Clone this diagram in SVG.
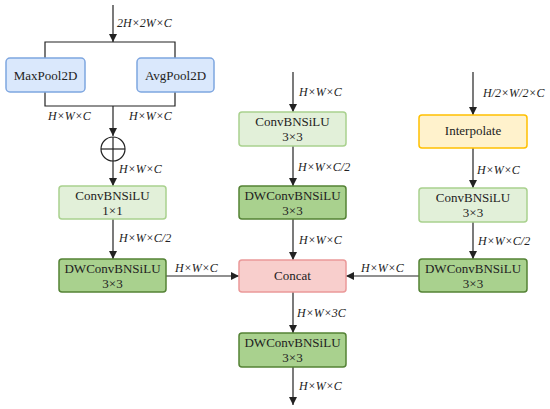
<svg xmlns="http://www.w3.org/2000/svg" width="550" height="409" viewBox="0 0 550 409">
<style>
text{font-family:"Times New Roman",Tinos,"Liberation Serif","Noto Serif","DejaVu Serif",FreeSerif,serif;fill:#222}
.t{font-size:13px;text-anchor:middle}
.l{font-size:12px;font-style:italic}
.ln{stroke:#222;stroke-width:1.2;fill:none}
.blue{fill:#dae8fc;stroke:#7ea6e0;stroke-width:1.5}
.lg{fill:#e2f0d9;stroke:#a9d18e;stroke-width:1.5}
.dg{fill:#a9d18e;stroke:#548235;stroke-width:1.5}
.pk{fill:#f8cecc;stroke:#ea9999;stroke-width:1.5}
.yl{fill:#fff2cc;stroke:#ffc000;stroke-width:1.5}
</style>
<defs>
<marker id="ah" viewBox="0 0 10 10" refX="10" refY="5" markerWidth="8" markerHeight="8" markerUnits="userSpaceOnUse" orient="auto">
<path d="M0,0 L10,5 L0,10 z" fill="#222"/>
</marker>
</defs>
<g id="connectors">
<line class="ln" x1="113" y1="5" x2="113" y2="42" marker-end="url(#ah)"/>
<polyline class="ln" points="45,58 45,42 175,42 175,58"/>
<polyline class="ln" points="45,92 45,106 175,106 175,92"/>
<line class="ln" x1="113" y1="106" x2="113" y2="136" marker-end="url(#ah)"/>
<line class="ln" x1="113" y1="161" x2="113" y2="186" marker-end="url(#ah)"/>
<line class="ln" x1="113" y1="219" x2="113" y2="259" marker-end="url(#ah)"/>
<line class="ln" x1="166" y1="276" x2="239" y2="276" marker-end="url(#ah)"/>
<line class="ln" x1="293" y1="72" x2="293" y2="112" marker-end="url(#ah)"/>
<line class="ln" x1="293" y1="146" x2="293" y2="186" marker-end="url(#ah)"/>
<line class="ln" x1="293" y1="219" x2="293" y2="260" marker-end="url(#ah)"/>
<line class="ln" x1="293" y1="292" x2="293" y2="333" marker-end="url(#ah)"/>
<line class="ln" x1="293" y1="367" x2="293" y2="405" marker-end="url(#ah)"/>
<line class="ln" x1="473" y1="72" x2="473" y2="115" marker-end="url(#ah)"/>
<line class="ln" x1="473" y1="148" x2="473" y2="188" marker-end="url(#ah)"/>
<line class="ln" x1="473" y1="222" x2="473" y2="259" marker-end="url(#ah)"/>
<line class="ln" x1="419" y1="276" x2="346" y2="276" marker-end="url(#ah)"/>
</g>
<g id="labels">
<text class="l" x="117" y="27">2H×2W×C</text>
<text class="l" x="48" y="120">H×W×C</text>
<text class="l" x="129" y="120">H×W×C</text>
<text class="l" x="119" y="173">H×W×C</text>
<text class="l" x="119" y="242">H×W×C/2</text>
<text class="l" x="175" y="272">H×W×C</text>
<text class="l" x="299" y="96">H×W×C</text>
<text class="l" x="298" y="171">H×W×C/2</text>
<text class="l" x="299" y="244">H×W×C</text>
<text class="l" x="297" y="317">H×W×3C</text>
<text class="l" x="299" y="390">H×W×C</text>
<text class="l" x="483" y="97">H/2×W/2×C</text>
<text class="l" x="477" y="174">H×W×C</text>
<text class="l" x="478" y="245">H×W×C/2</text>
<text class="l" x="361" y="272">H×W×C</text>
</g>
<g id="maxpool"><rect class="blue" x="6" y="58" width="79" height="34" rx="4"/><text class="t" x="45.5" y="80">MaxPool2D</text></g>
<g id="avgpool"><rect class="blue" x="137" y="58" width="77" height="34" rx="4"/><text class="t" x="175.5" y="80">AvgPool2D</text></g>
<g id="add"><circle cx="113" cy="149" r="12" fill="#fff" stroke="#222" stroke-width="1.2"/><line class="ln" x1="101" y1="149" x2="125" y2="149"/><line class="ln" x1="113" y1="137" x2="113" y2="161"/></g>
<g id="conv1"><rect class="lg" x="59" y="186" width="107" height="33" rx="3"/><text class="t" x="112.5" y="200">ConvBNSiLU</text><text class="t" x="112.5" y="215">1×1</text></g>
<g id="dw1"><rect class="dg" x="59" y="259" width="107" height="33" rx="3"/><text class="t" x="112.5" y="273">DWConvBNSiLU</text><text class="t" x="112.5" y="288">3×3</text></g>
<g id="conv2"><rect class="lg" x="239" y="112" width="107" height="34" rx="3"/><text class="t" x="292.5" y="126">ConvBNSiLU</text><text class="t" x="292.5" y="141">3×3</text></g>
<g id="dw2"><rect class="dg" x="239" y="186" width="107" height="33" rx="3"/><text class="t" x="292.5" y="200">DWConvBNSiLU</text><text class="t" x="292.5" y="215">3×3</text></g>
<g id="concat"><rect class="pk" x="239" y="260" width="107" height="32" rx="3"/><text class="t" x="292.5" y="280">Concat</text></g>
<g id="dw3"><rect class="dg" x="239" y="333" width="107" height="34" rx="3"/><text class="t" x="292.5" y="347">DWConvBNSiLU</text><text class="t" x="292.5" y="362">3×3</text></g>
<g id="interp"><rect class="yl" x="419" y="115" width="108" height="33" rx="3"/><text class="t" x="473" y="135">Interpolate</text></g>
<g id="conv3"><rect class="lg" x="419" y="188" width="108" height="34" rx="3"/><text class="t" x="473" y="202">ConvBNSiLU</text><text class="t" x="473" y="217">3×3</text></g>
<g id="dw4"><rect class="dg" x="419" y="259" width="108" height="33" rx="3"/><text class="t" x="473" y="273">DWConvBNSiLU</text><text class="t" x="473" y="288">3×3</text></g>
</svg>
